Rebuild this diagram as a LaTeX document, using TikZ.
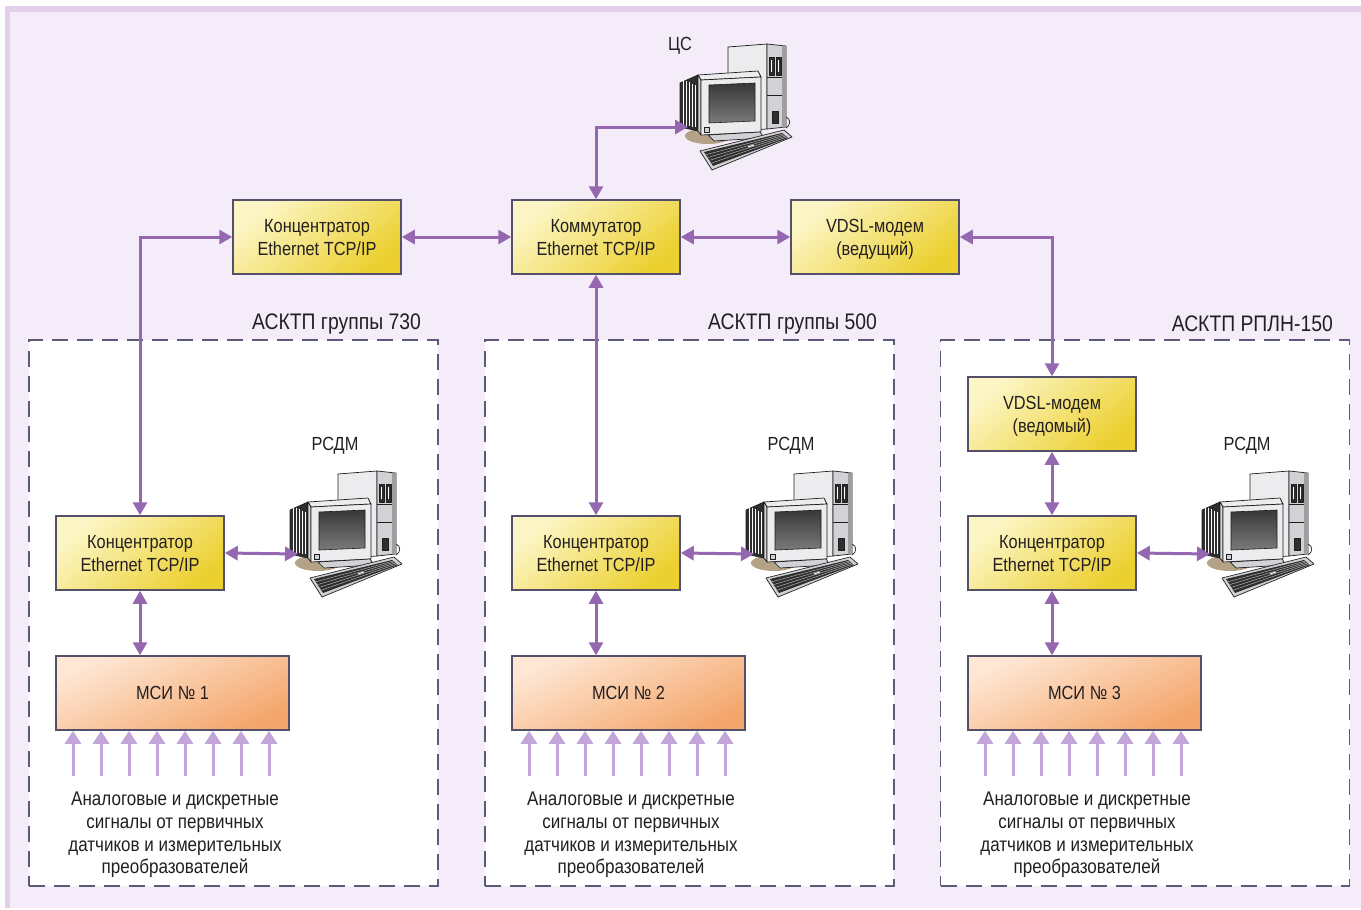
\documentclass[tikz,border=0pt]{standalone}
\usepackage{fontspec}
\setmainfont{Liberation Sans}[FakeStretch=0.86]
\usetikzlibrary{arrows.meta,calc}

\definecolor{framec}{HTML}{E2D0EA}
\definecolor{paperc}{HTML}{F4ECF8}
\definecolor{inkc}{HTML}{231F20}
\definecolor{edgec}{HTML}{55506A}
\definecolor{dashc}{HTML}{5E5A7A}
\definecolor{linkc}{HTML}{9467B0}
\definecolor{sigc}{HTML}{C2A6DA}
\definecolor{yelA}{HTML}{FCF6C6}
\definecolor{yelB}{HTML}{ECD030}
\definecolor{orA}{HTML}{FEE7D4}
\definecolor{orB}{HTML}{F4A66C}
\definecolor{pcline}{HTML}{1E1E1E}
\definecolor{pclight}{HTML}{ECECEE}
\definecolor{pcmid}{HTML}{D2D2D6}
\definecolor{pcdark}{HTML}{2E2E2E}
\definecolor{pcshadow}{HTML}{B4A286}

\tikzset{
  txt/.style={font=\fontsize{19}{23}\selectfont, text=inkc},
  head/.style={font=\fontsize{22.5}{26}\selectfont, text=inkc, inner sep=0pt},
  unit/.style={txt, draw=edgec, line width=1.5pt, minimum width=168pt,
    minimum height=74pt, align=center, inner sep=0pt, text depth=-2pt,
    shading=axis, top color=yelA, bottom color=yelB, shading angle=40},
  msibox/.style={txt, draw=edgec, line width=1.5pt, minimum width=233pt,
    minimum height=74pt, align=center, inner sep=0pt,
    shading=axis, top color=orA, bottom color=orB, shading angle=25},
  grp/.style={draw=dashc, line width=1.6pt, dash pattern=on 16pt off 9pt,
    fill=white, minimum width=409pt, minimum height=546pt, inner sep=0pt},
  conn/.style={draw=linkc, line width=3pt,
    {Triangle[length=13pt,width=14pt]}-{Triangle[length=13pt,width=14pt]}},
  sig/.style={draw=sigc, line width=3pt, -{Triangle[length=13pt,width=16pt]}},
  note/.style={font=\fontsize{19.8}{22.7}\selectfont, text=inkc, align=center, inner sep=0pt},
  pcout/.style={draw=pcline, line width=0.7pt, line join=round},
  pics/desktop/.style={code={
    % shadow under the monitor
    \fill[pcshadow] (20,9) ellipse (23pt and 8pt);
    % system unit: side panel and front panel
    \draw[pcout, fill=pclight] (40,-80) -- (79,-83) -- (79,2) -- (40,5) -- cycle;
    \draw[pcout, fill=pcmid] (79,-83) -- (98,-81) -- (98,0) -- (79,2) -- cycle;
    \fill[gray!75] (94,-81.5) -- (98,-81) -- (98,0) -- (94,0.5) -- cycle;
    \draw[pcout, fill=pcdark] (81,-70) rectangle (86,-52);
    \draw[pcout, fill=pcdark] (88,-70) rectangle (93,-52);
    \draw[white, line width=0.6pt] (83.5,-67) -- (83.5,-55) (90.5,-67) -- (90.5,-55);
    \draw[pcout] (79,-50) -- (94,-50) (79,-32) -- (94,-32);
    \draw[pcout, fill=pcdark] (84,-16) rectangle (90,-4);
    \draw[pcout] (98,-10) .. controls (103,-8) and (103,-2) .. (98,1);
    % tube housing with cooling fins
    \draw[pcout, fill=pcdark] (-8,-44) -- (10,-52) -- (10,4) -- (-8,0) -- cycle;
    \foreach \f in {-5,-2,1,4,7}
      \draw[white, line width=0.8pt] (\f,-45+0.45*\f) -- (\f,-1+0.2*\f);
    % monitor bezel
    \draw[pcout, fill=pclight] (10,-52) -- (70,-56) -- (73,-50) -- (13,-47) -- cycle;
    \draw[pcout, fill=pcmid] (10,-52) -- (13,-47) -- (13,8) -- (10,4) -- cycle;
    \draw[pcout, fill=pclight] (13,-47) -- (73,-50) -- (73,5) -- (13,8) -- cycle;
    \shade[top color=black!78, bottom color=black!52, draw=pcline, line width=0.6pt]
      (21,-42) -- (67,-44) -- (67,-6) -- (21,-4) -- cycle;
    \draw[pcout, fill=pcmid] (16,0) rectangle (21,5);
    % monitor stand
    \draw[pcout, fill=pcmid] (20,8) -- (72,5) -- (76,11) -- (26,14) -- cycle;
    % keyboard
    \draw[pcout, fill=pcmid] (12,24) -- (96,3) -- (104,10) -- (24,43) -- cycle;
    \fill[pcdark] (16,25) -- (94,6) -- (100,11) -- (25,39) -- cycle;
    \foreach \k in {0.2,0.4,0.6,0.8}
      \draw[gray!60, line width=0.5pt] ($ (16,25)!\k!(25,39) $) -- ($ (94,6)!\k!(100,11) $);
    \draw[white, line width=1pt] (60,20) -- (66,18);
  }},
}

\begin{document}
\begin{tikzpicture}[x=1pt, y=-1pt]
  % page frame
  \useasboundingbox (0,0) rectangle (1361,910);
  \fill[white] (0,0) rectangle (1361,910);
  \fill[framec] (5,6) rectangle (1361,908);
  \fill[paperc] (10,12) rectangle (1361,908);

  % subsystem frames
  \node[grp] (g1) at (233.5,613) {};
  \node[grp] (g2) at (689.5,613) {};
  \node[grp] (g3) at (1145,613) {};
  \node[head, anchor=east] (t1) at (421,323.5) {АСКТП группы 730};
  \node[head, anchor=east] (t2) at (877,323.5) {АСКТП группы 500};
  \node[head, anchor=east] (t3) at (1333,323.5) {АСКТП РПЛН-150};

  % upper level
  \node[unit] (k0) at (317,237) {Концентратор\\Ethernet TCP/IP};
  \node[unit] (sw) at (596,237) {Коммутатор\\Ethernet TCP/IP};
  \node[unit] (vm) at (875,237) {VDSL-модем\\(ведущий)};

  % central station
  \coordinate (pc0) at (688,127);
  \pic at (pc0) {desktop};
  \node[txt, inner sep=0pt] (cs) at (680,45.5) {ЦС};

  % subsystem units
  \node[unit] (vs) at (1052,414) {VDSL-модем\\(ведомый)};
  \node[unit] (k1) at (140,553) {Концентратор\\Ethernet TCP/IP};
  \node[unit] (k2) at (596,553) {Концентратор\\Ethernet TCP/IP};
  \node[unit] (k3) at (1052,553) {Концентратор\\Ethernet TCP/IP};
  \node[msibox] (m1) at (172.5,693) {МСИ № 1};
  \node[msibox] (m2) at (628.5,693) {МСИ № 2};
  \node[msibox] (m3) at (1084.5,693) {МСИ № 3};

  % workstations
  \coordinate (pc1) at (298,554);
  \coordinate (pc2) at (754,554);
  \coordinate (pc3) at (1210,554);
  \pic at (pc1) {desktop};
  \pic at (pc2) {desktop};
  \pic at (pc3) {desktop};
  \node[txt, inner sep=0pt] (r1) at (335,445.5) {РСДМ};
  \node[txt, inner sep=0pt] (r2) at (791,445.5) {РСДМ};
  \node[txt, inner sep=0pt] (r3) at (1247,445.5) {РСДМ};

  % network links
  \draw[conn] (sw.north) |- (pc0);
  \draw[conn] (k0.east) -- (sw.west);
  \draw[conn] (sw.east) -- (vm.west);
  \draw[conn] (vm.east) -| (vs.north);
  \draw[conn] (k0.west) -| (k1.north);
  \draw[conn] (sw.south) -- (k2.north);
  \draw[conn] (vs.south) -- (k3.north);
  \draw[conn] (k1.east) -- (pc1);
  \draw[conn] (k2.east) -- (pc2);
  \draw[conn] (k3.east) -- (pc3);
  \draw[conn] (k1.south) -- (k1.south |- m1.north);
  \draw[conn] (k2.south) -- (k2.south |- m2.north);
  \draw[conn] (k3.south) -- (k3.south |- m3.north);

  % sensor inputs
  \foreach \m/\x in {m1/73, m2/529, m3/985} {
    \foreach \i in {0,...,7} {
      \coordinate (\m-in\i) at (\x+28*\i,776);
      \draw[sig] (\m-in\i) -- (\m-in\i |- \m.south);
    }
  }
  \node[note] (n1) at (175,835) {Аналоговые и дискретные\\сигналы от первичных\\датчиков и измерительных\\преобразователей};
  \node[note] (n2) at (631,835) {Аналоговые и дискретные\\сигналы от первичных\\датчиков и измерительных\\преобразователей};
  \node[note] (n3) at (1087,835) {Аналоговые и дискретные\\сигналы от первичных\\датчиков и измерительных\\преобразователей};
\end{tikzpicture}
\end{document}
